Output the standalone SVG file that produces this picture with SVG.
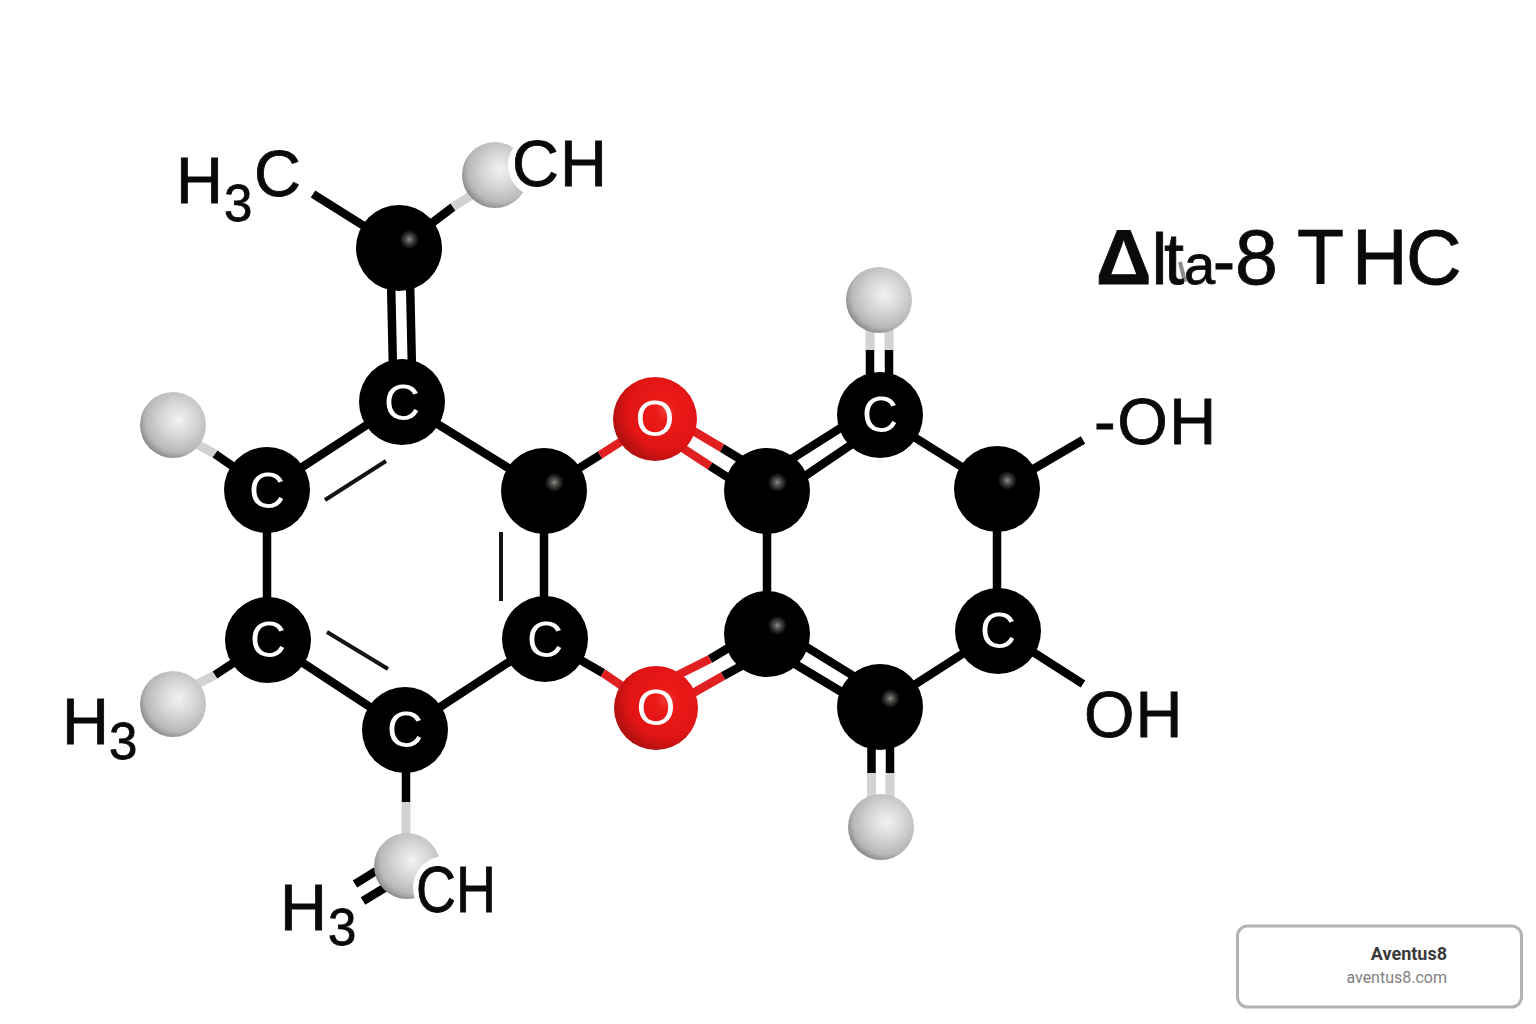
<svg xmlns="http://www.w3.org/2000/svg" width="1536" height="1024" viewBox="0 0 1536 1024">
<style>
.b{stroke:#000;stroke-width:8.500;fill:none}
.g{stroke:#d2d2d0;stroke-width:9;fill:none}
.r{stroke:#e02020;stroke-width:8.500;fill:none}
.k{stroke:#141414;stroke-width:4;fill:none}
.t{font-family:"Liberation Sans",Arial,sans-serif;fill:#0a0a0a;stroke:#0a0a0a;stroke-width:0.800}
.lab{font-size:65px}
.sub{font-size:51px}
.ac{font-family:"Liberation Sans",Arial,sans-serif;font-size:50px;fill:#fff;text-anchor:middle}
</style>
<defs>
<radialGradient id="cg" cx="0.62" cy="0.4" r="0.62"><stop offset="0" stop-color="#8a8a86"/><stop offset="0.07" stop-color="#4a4a48"/><stop offset="0.18" stop-color="#000"/><stop offset="1" stop-color="#000"/></radialGradient>
<radialGradient id="hg" cx="0.58" cy="0.42" r="0.62"><stop offset="0" stop-color="#f2f2f0"/><stop offset="0.4" stop-color="#d8d8d6"/><stop offset="0.8" stop-color="#b8b8b6"/><stop offset="1" stop-color="#868684"/></radialGradient>
<radialGradient id="og" cx="0.62" cy="0.4" r="0.64"><stop offset="0" stop-color="#f23a34"/><stop offset="0.2" stop-color="#ea1a18"/><stop offset="0.7" stop-color="#e21414"/><stop offset="1" stop-color="#b01010"/></radialGradient>
<circle id="ca" r="43" fill="url(#cg)"/>
<circle id="cl" r="43" fill="#000"/>
<circle id="ha" r="33" fill="url(#hg)"/>
<circle id="oa" r="42" fill="url(#og)"/>
</defs>
<rect width="1536" height="1024" fill="#fff"/>
<g id="connectors">
<path class="b" d="M313 194L399 248M399 248L453 207M391 280L393 370M410 280L412 370"/>
<path class="b" d="M402 402L267 490M267 490V640M268 640L405 730M405 730L544 639M544 490V639M402 402L544 490M767 491V634M879 415L997 489M997 489V631M998 631L880 707"/>
<path class="b" d="M1030 471L1083 440M1033 652L1083 684"/>
<path class="k" d="M325 500L386 461M327 632L388 669M501 532V601"/>
<path class="b" d="M544 490L600 455M544 639L603 673"/>
<path class="r" d="M600 455L625 439M603 673L628 690"/>
<path class="b" d="M722 448L745 462M710 466L735 482M710 659L735 644M723 676L745 664"/>
<path class="r" d="M685 426L722 448M675 443L710 466M678 675L710 659M688 696L723 676"/>
<path class="b" d="M790 460L850 422M805 476L858 440M800 643L860 680M790 661L850 697"/>
<path class="b" d="M870 380V350M889 380V350M871.500 740V773M890 740V773"/>
<path class="g" d="M870 350V325M889 350V325M871.500 773V800M890 773V800"/>
<path class="b" d="M406 770V802"/>
<path class="g" d="M406 802V840"/>
<path class="g" d="M453 207L475 193M197 444L215 454M197 684L215 675"/>
<path class="b" d="M215 454L267 490M215 675L268 640M355 884L376 871M363 901L386 887"/>
</g>
<g id="atom-c1"><use href="#ca" x="399" y="248"/></g>
<g id="atom-c2"><use href="#cl" x="402" y="402"/><text class="ac" x="402" y="420">C</text></g>
<g id="atom-c3"><use href="#cl" x="267" y="490"/><text class="ac" x="267" y="508">C</text></g>
<g id="atom-c4"><use href="#cl" x="268" y="640"/><text class="ac" x="268" y="657">C</text></g>
<g id="atom-c5"><use href="#cl" x="405" y="730"/><text class="ac" x="405" y="747">C</text></g>
<g id="atom-c6"><use href="#cl" x="545" y="639"/><text class="ac" x="545" y="657">C</text></g>
<g id="atom-c7"><use href="#ca" x="544" y="491"/></g>
<g id="atom-c8"><use href="#ca" x="767" y="491"/></g>
<g id="atom-c9"><use href="#ca" x="767" y="634"/></g>
<g id="atom-c10"><use href="#cl" x="880" y="415"/><text class="ac" x="880" y="432">C</text></g>
<g id="atom-c11"><use href="#ca" x="997" y="489"/></g>
<g id="atom-c12"><use href="#cl" x="998" y="631"/><text class="ac" x="998" y="648">C</text></g>
<g id="atom-c13"><use href="#ca" x="880" y="707"/></g>
<g id="atom-o1"><use href="#oa" x="655" y="419"/><text class="ac" x="655" y="436">O</text></g>
<g id="atom-o2"><use href="#oa" x="656" y="708"/><text class="ac" x="656" y="725">O</text></g>
<g id="atom-h1"><use href="#ha" x="495" y="175"/></g>
<g id="atom-h2"><use href="#ha" x="173" y="425"/></g>
<g id="atom-h3"><use href="#ha" x="173" y="704"/></g>
<g id="atom-h4"><use href="#ha" x="407" y="866"/></g>
<g id="atom-h5"><use href="#ha" x="879" y="300"/></g>
<g id="atom-h6"><use href="#ha" x="881" y="827"/></g>
<g id="labels">
<circle cx="540" cy="165" r="32" fill="#fff"/>
<circle cx="445" cy="888" r="32" fill="#fff"/>
<text class="t lab" x="176" y="203">H</text><text class="t sub" x="224" y="221">3</text><text class="t lab" x="254" y="196">C</text>
<text class="t lab" x="512" y="186" letter-spacing="1">CH</text>
<text class="t lab" x="1094" y="444" letter-spacing="1.500">-OH</text>
<text class="t lab" x="1084" y="737" letter-spacing="1">OH</text>
<text class="t lab" x="62" y="744">H</text><text class="t sub" x="109" y="759">3</text>
<text class="t lab" x="280" y="930">H</text><text class="t sub" x="328" y="945">3</text>
<text class="t lab" x="416" y="912" textLength="80" lengthAdjust="spacingAndGlyphs">CH</text>
</g>
<g id="title">
<path d="M1180 262L1185 282" stroke="#8a8a8a" stroke-width="4" fill="none"/>
<text class="t" font-size="77" y="284"><tspan x="1096" font-weight="700">Δ</tspan><tspan x="1151.500 1164" font-size="72">lt</tspan><tspan x="1184" font-size="56">a</tspan><tspan x="1213" font-size="66">-</tspan><tspan x="1235">8 </tspan><tspan x="1297">T</tspan><tspan x="1352">H</tspan><tspan x="1406">C</tspan></text>
</g>
<g id="badge">
<rect x="1237.500" y="926" width="284" height="81" rx="10" fill="#fff" stroke="#b3b3b3" stroke-width="3"/>
<text x="1447" y="960" text-anchor="end" font-family="Roboto,sans-serif" font-size="18" font-weight="700" fill="#3a3a3a">Aventus8</text>
<text x="1447" y="983" text-anchor="end" font-family="Roboto,sans-serif" font-size="16" fill="#808080">aventus8.com</text>
</g>
</svg>
